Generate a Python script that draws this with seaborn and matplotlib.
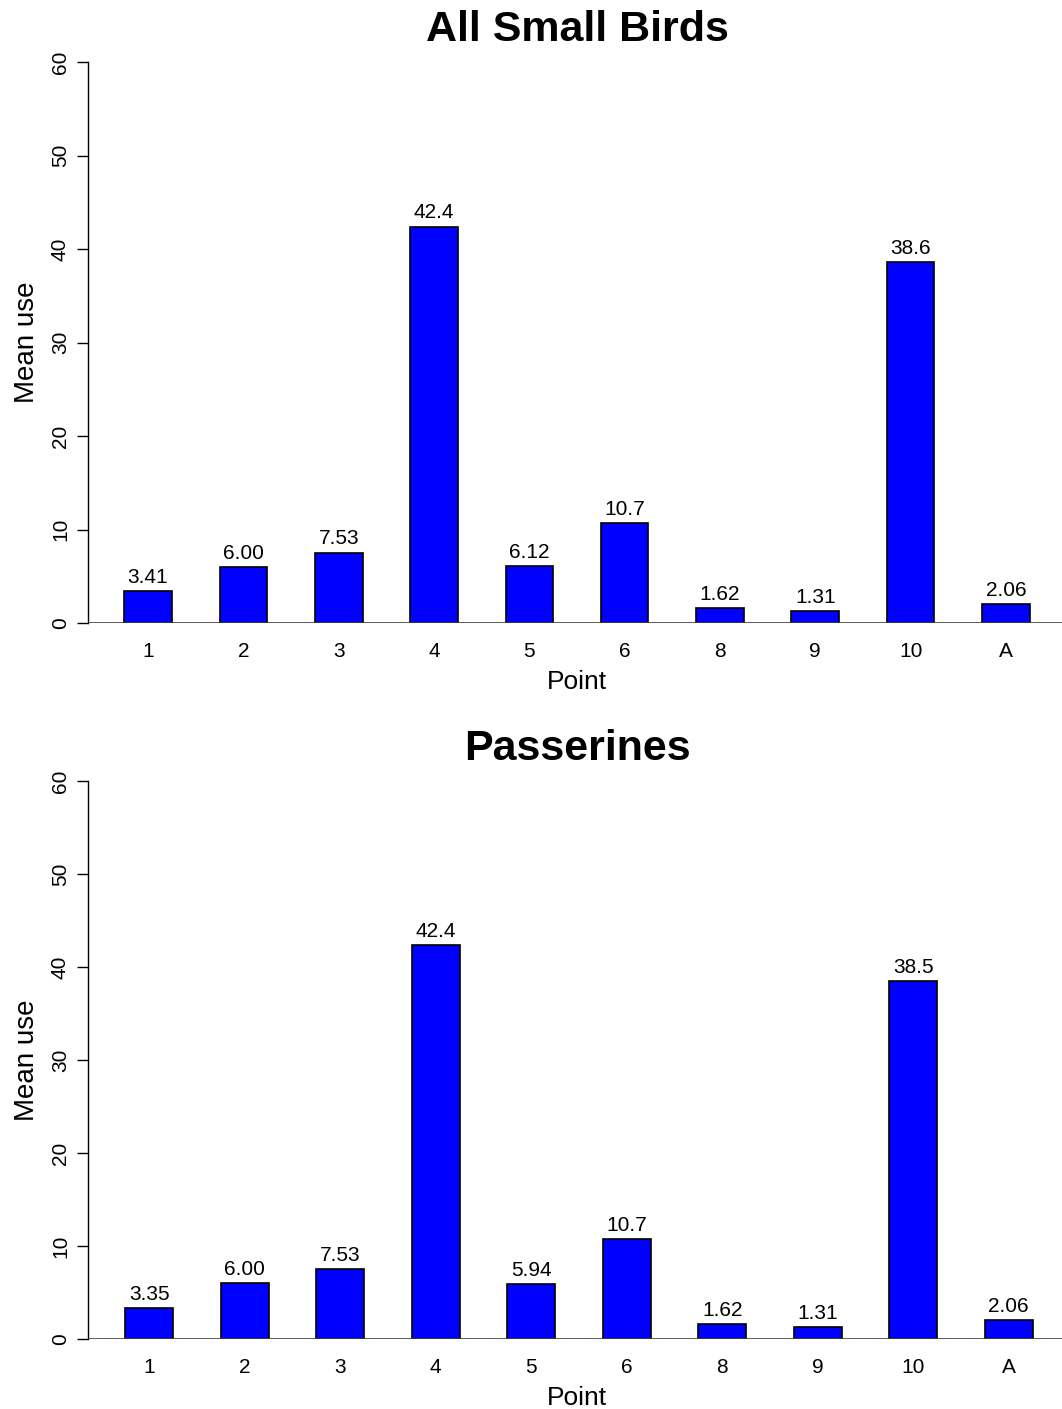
"""Mean use per point, two panels (all small birds / passerines)."""

import matplotlib
matplotlib.use("Agg")
import matplotlib.pyplot as plt
import pandas as pd
import seaborn as sns

points = ["1", "2", "3", "4", "5", "6", "8", "9", "10", "A"]
all_small_birds = [3.41, 6.00, 7.53, 42.4, 6.12, 10.7, 1.62, 1.31, 38.6, 2.06]
passerines = [3.35, 6.00, 7.53, 42.4, 5.94, 10.7, 1.62, 1.31, 38.5, 2.06]
titles = ["All Small Birds", "Passerines"]
y_ticks = [0, 10, 20, 30, 40, 50, 60]

sns.set_style("white")
plt.rcParams["font.family"] = ["Liberation Sans", "DejaVu Sans"]
plt.rcParams["text.color"] = "black"
plt.rcParams["axes.labelcolor"] = "black"
plt.rcParams["xtick.color"] = "black"
plt.rcParams["ytick.color"] = "black"

W, H = 1062, 1409
fig = plt.figure(figsize=(W / 100, H / 100), dpi=100)

# panel boxes in pixels: (left, top, right, bottom) and x-limits
boxes = [(88, 62, 1066, 623), (88, 781, 1066, 1339)]
xlims = [(-0.63, 9.63), (-0.64, 9.60)]

for (l, t, r, b), xl, title, values in zip(boxes, xlims, titles,
                                         [all_small_birds, passerines]):
    ax = fig.add_axes([l / W, 1 - b / H, (r - l) / W, (b - t) / H])
    df = pd.DataFrame({"Point": points, "Mean use": values})
    sns.barplot(
        data=df, x="Point", y="Mean use", order=points,
        color="#0000ff", saturation=1, width=0.5,
        edgecolor="black", linewidth=1.2, ax=ax,
    )
    ax.bar_label(ax.containers[0], labels=["%#.3g" % v for v in values],
                 padding=3, fontsize=15, color="black")

    ax.set_xlim(*xl)
    ax.set_ylim(0, 60)
    ax.set_yticks(y_ticks)
    ax.set_yticklabels([str(v) for v in y_ticks], rotation=90, va="center",
                       fontsize=15)
    ax.tick_params(axis="y", direction="out", length=8, width=1, pad=5,
                   left=True, color="black")
    ax.tick_params(axis="x", length=0, pad=14, labelsize=15)

    for side in ["top", "right", "bottom"]:
        ax.spines[side].set_visible(False)
    ax.spines["left"].set_bounds(0, 60)
    ax.spines["left"].set_color("black")
    ax.spines["left"].set_linewidth(1)
    ax.axhline(0, color="#404040", lw=1.2, zorder=3)

    ax.set_xlabel("Point", fontsize=19, labelpad=6)
    ax.set_ylabel("Mean use", fontsize=20, labelpad=8)
    ax.set_title(title, fontsize=31, fontweight="bold", pad=15)

fig.savefig("out.png", dpi=100)
